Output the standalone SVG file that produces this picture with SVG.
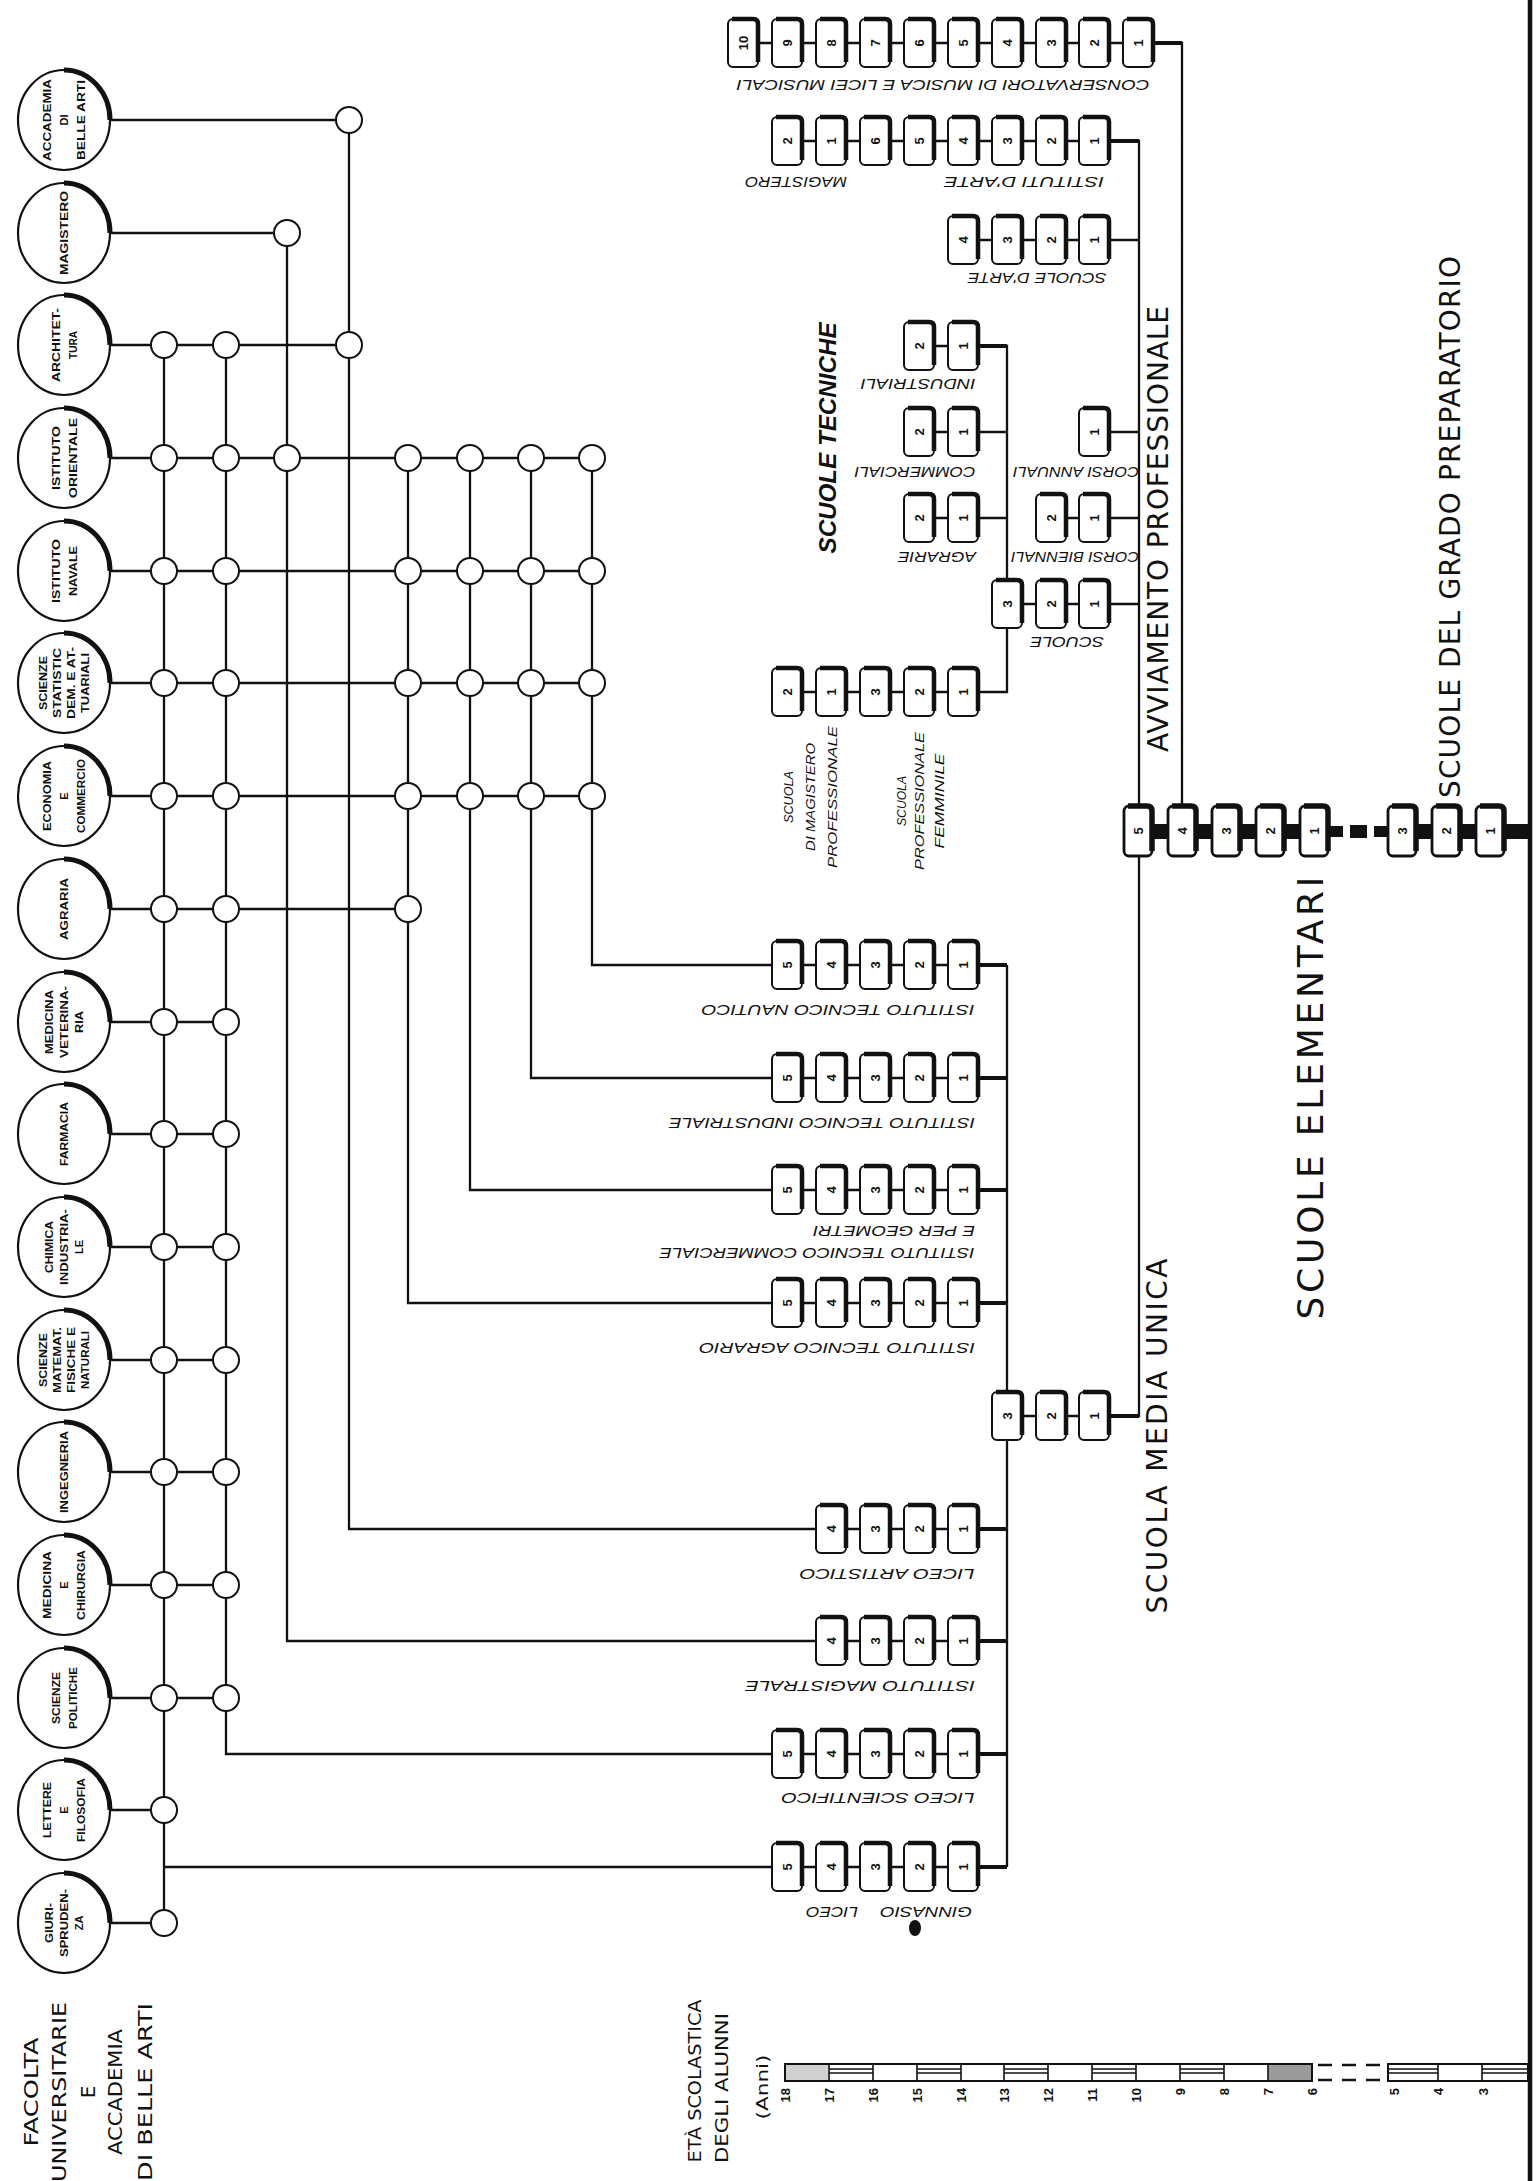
<svg xmlns="http://www.w3.org/2000/svg" xmlns:xlink="http://www.w3.org/1999/xlink" width="1538" height="2181" viewBox="0 0 1538 2181">
<style>
.ln{stroke:#111;stroke-width:2.3;fill:none}
.nd{fill:#fff;stroke:#111;stroke-width:2}
.fc ellipse{fill:#fff;stroke:#111;stroke-width:2.2}
.fc path{fill:none;stroke:#111;stroke-width:5}
.ft{font-family:"Liberation Sans",Arial,sans-serif;font-size:11px;font-weight:bold;fill:#111;text-anchor:middle;dominant-baseline:central}
.n{font-family:"Liberation Sans",Arial,sans-serif;font-size:13px;font-weight:bold;fill:#111;text-anchor:middle;dominant-baseline:central}
.lb{font-family:"Liberation Sans",Arial,sans-serif;font-size:15px;font-style:italic;fill:#111;text-anchor:middle;dominant-baseline:central}
.lv{font-family:"Liberation Sans",Arial,sans-serif;font-size:13px;font-style:italic;fill:#111;text-anchor:middle;dominant-baseline:central}
.big{font-family:"DejaVu Sans","Liberation Sans",sans-serif;font-size:28px;fill:#111;text-anchor:middle;dominant-baseline:central}
.hd{font-family:"DejaVu Sans","Liberation Sans",sans-serif;font-size:20px;fill:#111;text-anchor:middle;dominant-baseline:central}
.sn{font-family:"Liberation Sans",Arial,sans-serif;font-size:13px;font-weight:bold;fill:#111;text-anchor:end;dominant-baseline:central}
</style>
<defs>
<g id="bx"><rect x="-15" y="-24" width="30" height="48" rx="5" fill="#fff" stroke="#111" stroke-width="2"/><path d="M-11,-24H10Q15,-24 15,-19V19" fill="none" stroke="#111" stroke-width="4.5"/></g>
<g id="bxe"><rect x="-14" y="-25" width="28" height="50" rx="5" fill="#fff" stroke="#111" stroke-width="2.8"/><path d="M-10,-25H9Q14,-25 14,-20V20" fill="none" stroke="#111" stroke-width="5.5"/></g>
</defs>
<rect width="1538" height="2181" fill="#fff"/>

<g id="connectors">
<path class="ln" d="M110,120H349 M110,233H287 M110,345H349 M110,458H592 M110,571H592 M110,683H592 M110,796H592 M110,909H408 M110,1022H226 M110,1134H226 M110,1247H226 M110,1360H226 M110,1472H226 M110,1585H226 M110,1698H226 M110,1810H164 M110,1923H164"/>
<path class="ln" d="M164,345V1923 M164,1867H787 M226,345V1754H787 M287,233V1641H831 M349,120V1529H831 M408,458V1303H787 M470,458V1190H787 M531,458V1078H787 M592,458V965H787"/>
<path class="ln" d="M787,965H1007 M787,1078H1007 M787,1190H1007 M787,1303H1007 M831,1529H1007 M831,1641H1007 M787,1754H1007 M787,1867H1007 M1007,965V1867"/>
<path class="ln" d="M1007,1416H1139V141H787 M743,43H1182V831 M963,240H1139 M1094,432H1139 M1051,518H1139 M1007,604H1139 M919,346H1007V692H787 M919,432H1007 M919,518H1007"/>
<path class="ln" style="stroke-width:4" d="M978,965H1007 M978,1078H1007 M978,1190H1007 M978,1303H1007 M978,1529H1007 M978,1641H1007 M978,1754H1007 M978,1867H1007 M1109,1416H1139 M1153,43H1182 M978,346H1007 M1109,141H1139"/>
<path d="M1530,0V2181" stroke="#111" stroke-width="4.5"/>
<rect x="1138" y="824" width="191" height="15" fill="#111"/>
<rect x="1328" y="826" width="15" height="11" fill="#111"/>
<rect x="1350" y="825" width="17" height="13" fill="#111"/>
<rect x="1374" y="826" width="14" height="11" fill="#111"/>
<rect x="1400" y="824" width="130" height="15" fill="#111"/>
</g>

<g id="junctions">
<g id="j-r0"><circle class="nd" cx="349" cy="120" r="13"/></g>
<g id="j-r1"><circle class="nd" cx="287" cy="233" r="13"/></g>
<g id="j-r2"><circle class="nd" cx="164" cy="345" r="13"/><circle class="nd" cx="226" cy="345" r="13"/><circle class="nd" cx="349" cy="345" r="13"/></g>
<g id="j-r3"><circle class="nd" cx="164" cy="458" r="13"/><circle class="nd" cx="226" cy="458" r="13"/><circle class="nd" cx="287" cy="458" r="13"/><circle class="nd" cx="408" cy="458" r="13"/><circle class="nd" cx="470" cy="458" r="13"/><circle class="nd" cx="531" cy="458" r="13"/><circle class="nd" cx="592" cy="458" r="13"/></g>
<g id="j-r4"><circle class="nd" cx="164" cy="571" r="13"/><circle class="nd" cx="226" cy="571" r="13"/><circle class="nd" cx="408" cy="571" r="13"/><circle class="nd" cx="470" cy="571" r="13"/><circle class="nd" cx="531" cy="571" r="13"/><circle class="nd" cx="592" cy="571" r="13"/></g>
<g id="j-r5"><circle class="nd" cx="164" cy="683" r="13"/><circle class="nd" cx="226" cy="683" r="13"/><circle class="nd" cx="408" cy="683" r="13"/><circle class="nd" cx="470" cy="683" r="13"/><circle class="nd" cx="531" cy="683" r="13"/><circle class="nd" cx="592" cy="683" r="13"/></g>
<g id="j-r6"><circle class="nd" cx="164" cy="796" r="13"/><circle class="nd" cx="226" cy="796" r="13"/><circle class="nd" cx="408" cy="796" r="13"/><circle class="nd" cx="470" cy="796" r="13"/><circle class="nd" cx="531" cy="796" r="13"/><circle class="nd" cx="592" cy="796" r="13"/></g>
<g id="j-r7"><circle class="nd" cx="164" cy="909" r="13"/><circle class="nd" cx="226" cy="909" r="13"/><circle class="nd" cx="408" cy="909" r="13"/></g>
<g id="j-r8"><circle class="nd" cx="164" cy="1022" r="13"/><circle class="nd" cx="226" cy="1022" r="13"/></g>
<g id="j-r9"><circle class="nd" cx="164" cy="1134" r="13"/><circle class="nd" cx="226" cy="1134" r="13"/></g>
<g id="j-r10"><circle class="nd" cx="164" cy="1247" r="13"/><circle class="nd" cx="226" cy="1247" r="13"/></g>
<g id="j-r11"><circle class="nd" cx="164" cy="1360" r="13"/><circle class="nd" cx="226" cy="1360" r="13"/></g>
<g id="j-r12"><circle class="nd" cx="164" cy="1472" r="13"/><circle class="nd" cx="226" cy="1472" r="13"/></g>
<g id="j-r13"><circle class="nd" cx="164" cy="1585" r="13"/><circle class="nd" cx="226" cy="1585" r="13"/></g>
<g id="j-r14"><circle class="nd" cx="164" cy="1698" r="13"/><circle class="nd" cx="226" cy="1698" r="13"/></g>
<g id="j-r15"><circle class="nd" cx="164" cy="1810" r="13"/></g>
<g id="j-r16"><circle class="nd" cx="164" cy="1923" r="13"/></g>
</g>

<g id="f-accademia" class="fc" transform="translate(64,120)"><ellipse rx="46" ry="50"/><path d="M0,-50A46,50 0 0 1 46,0"/>
<text class="ft" transform="translate(-17,0) rotate(-90)" textLength="82" lengthAdjust="spacingAndGlyphs">ACCADEMIA</text><text class="ft" transform="rotate(-90)">DI</text><text class="ft" transform="translate(17,0) rotate(-90)" textLength="80" lengthAdjust="spacingAndGlyphs">BELLE ARTI</text></g>
<g id="f-magistero" class="fc" transform="translate(64,233)"><ellipse rx="46" ry="50"/><path d="M0,-50A46,50 0 0 1 46,0"/>
<text class="ft" transform="rotate(-90)" textLength="84" lengthAdjust="spacingAndGlyphs">MAGISTERO</text></g>
<g id="f-architettura" class="fc" transform="translate(64,345)"><ellipse rx="46" ry="50"/><path d="M0,-50A46,50 0 0 1 46,0"/>
<text class="ft" transform="translate(-8,0) rotate(-90)" textLength="74" lengthAdjust="spacingAndGlyphs">ARCHITET-</text><text class="ft" transform="translate(9,0) rotate(-90)" textLength="28" lengthAdjust="spacingAndGlyphs">TURA</text></g>
<g id="f-orientale" class="fc" transform="translate(64,458)"><ellipse rx="46" ry="50"/><path d="M0,-50A46,50 0 0 1 46,0"/>
<text class="ft" transform="translate(-8,0) rotate(-90)" textLength="64" lengthAdjust="spacingAndGlyphs">ISTITUTO</text><text class="ft" transform="translate(9,0) rotate(-90)" textLength="80" lengthAdjust="spacingAndGlyphs">ORIENTALE</text></g>
<g id="f-navale" class="fc" transform="translate(64,571)"><ellipse rx="46" ry="50"/><path d="M0,-50A46,50 0 0 1 46,0"/>
<text class="ft" transform="translate(-8,0) rotate(-90)" textLength="64" lengthAdjust="spacingAndGlyphs">ISTITUTO</text><text class="ft" transform="translate(9,0) rotate(-90)" textLength="50" lengthAdjust="spacingAndGlyphs">NAVALE</text></g>
<g id="f-statistiche" class="fc" transform="translate(64,683)"><ellipse rx="46" ry="50"/><path d="M0,-50A46,50 0 0 1 46,0"/>
<text class="ft" transform="translate(-21,0) rotate(-90)" textLength="54" lengthAdjust="spacingAndGlyphs">SCIENZE</text><text class="ft" transform="translate(-7,0) rotate(-90)" textLength="70" lengthAdjust="spacingAndGlyphs">STATISTIC</text><text class="ft" transform="translate(7,0) rotate(-90)" textLength="72" lengthAdjust="spacingAndGlyphs">DEM. E AT-</text><text class="ft" transform="translate(21,0) rotate(-90)" textLength="60" lengthAdjust="spacingAndGlyphs">TUARIALI</text></g>
<g id="f-economia" class="fc" transform="translate(64,796)"><ellipse rx="46" ry="50"/><path d="M0,-50A46,50 0 0 1 46,0"/>
<text class="ft" transform="translate(-17,0) rotate(-90)" textLength="70" lengthAdjust="spacingAndGlyphs">ECONOMIA</text><text class="ft" transform="rotate(-90)">E</text><text class="ft" transform="translate(17,0) rotate(-90)" textLength="74" lengthAdjust="spacingAndGlyphs">COMMERCIO</text></g>
<g id="f-agraria" class="fc" transform="translate(64,909)"><ellipse rx="46" ry="50"/><path d="M0,-50A46,50 0 0 1 46,0"/>
<text class="ft" transform="rotate(-90)" textLength="62" lengthAdjust="spacingAndGlyphs">AGRARIA</text></g>
<g id="f-veterinaria" class="fc" transform="translate(64,1022)"><ellipse rx="46" ry="50"/><path d="M0,-50A46,50 0 0 1 46,0"/>
<text class="ft" transform="translate(-15,0) rotate(-90)" textLength="64" lengthAdjust="spacingAndGlyphs">MEDICINA</text><text class="ft" transform="rotate(-90)" textLength="72" lengthAdjust="spacingAndGlyphs">VETERINA-</text><text class="ft" transform="translate(15,0) rotate(-90)" textLength="22" lengthAdjust="spacingAndGlyphs">RIA</text></g>
<g id="f-farmacia" class="fc" transform="translate(64,1134)"><ellipse rx="46" ry="50"/><path d="M0,-50A46,50 0 0 1 46,0"/>
<text class="ft" transform="rotate(-90)" textLength="64" lengthAdjust="spacingAndGlyphs">FARMACIA</text></g>
<g id="f-chimica" class="fc" transform="translate(64,1247)"><ellipse rx="46" ry="50"/><path d="M0,-50A46,50 0 0 1 46,0"/>
<text class="ft" transform="translate(-15,0) rotate(-90)" textLength="52" lengthAdjust="spacingAndGlyphs">CHIMICA</text><text class="ft" transform="rotate(-90)" textLength="76" lengthAdjust="spacingAndGlyphs">INDUSTRIA-</text><text class="ft" transform="translate(15,0) rotate(-90)">LE</text></g>
<g id="f-matematiche" class="fc" transform="translate(64,1360)"><ellipse rx="46" ry="50"/><path d="M0,-50A46,50 0 0 1 46,0"/>
<text class="ft" transform="translate(-21,0) rotate(-90)" textLength="54" lengthAdjust="spacingAndGlyphs">SCIENZE</text><text class="ft" transform="translate(-7,0) rotate(-90)" textLength="66" lengthAdjust="spacingAndGlyphs">MATEMAT.</text><text class="ft" transform="translate(7,0) rotate(-90)" textLength="66" lengthAdjust="spacingAndGlyphs">FISICHE E</text><text class="ft" transform="translate(21,0) rotate(-90)" textLength="58" lengthAdjust="spacingAndGlyphs">NATURALI</text></g>
<g id="f-ingegneria" class="fc" transform="translate(64,1472)"><ellipse rx="46" ry="50"/><path d="M0,-50A46,50 0 0 1 46,0"/>
<text class="ft" transform="rotate(-90)" textLength="82" lengthAdjust="spacingAndGlyphs">INGEGNERIA</text></g>
<g id="f-chirurgia" class="fc" transform="translate(64,1585)"><ellipse rx="46" ry="50"/><path d="M0,-50A46,50 0 0 1 46,0"/>
<text class="ft" transform="translate(-17,0) rotate(-90)" textLength="68" lengthAdjust="spacingAndGlyphs">MEDICINA</text><text class="ft" transform="rotate(-90)">E</text><text class="ft" transform="translate(17,0) rotate(-90)" textLength="70" lengthAdjust="spacingAndGlyphs">CHIRURGIA</text></g>
<g id="f-politiche" class="fc" transform="translate(64,1698)"><ellipse rx="46" ry="50"/><path d="M0,-50A46,50 0 0 1 46,0"/>
<text class="ft" transform="translate(-8,0) rotate(-90)" textLength="52" lengthAdjust="spacingAndGlyphs">SCIENZE</text><text class="ft" transform="translate(9,0) rotate(-90)" textLength="62" lengthAdjust="spacingAndGlyphs">POLITICHE</text></g>
<g id="f-lettere" class="fc" transform="translate(64,1810)"><ellipse rx="46" ry="50"/><path d="M0,-50A46,50 0 0 1 46,0"/>
<text class="ft" transform="translate(-17,0) rotate(-90)" textLength="56" lengthAdjust="spacingAndGlyphs">LETTERE</text><text class="ft" transform="rotate(-90)">E</text><text class="ft" transform="translate(17,0) rotate(-90)" textLength="64" lengthAdjust="spacingAndGlyphs">FILOSOFIA</text></g>
<g id="f-giurisprudenza" class="fc" transform="translate(64,1923)"><ellipse rx="46" ry="50"/><path d="M0,-50A46,50 0 0 1 46,0"/>
<text class="ft" transform="translate(-15,0) rotate(-90)" textLength="40" lengthAdjust="spacingAndGlyphs">GIURI-</text><text class="ft" transform="rotate(-90)" textLength="68" lengthAdjust="spacingAndGlyphs">SPRUDEN-</text><text class="ft" transform="translate(15,0) rotate(-90)">ZA</text></g>

<g id="title-facolta">
<text class="hd" transform="translate(31,2092) rotate(-90)" textLength="109" lengthAdjust="spacingAndGlyphs">FACOLTA</text>
<text class="hd" transform="translate(59,2092) rotate(-90)" textLength="180" lengthAdjust="spacingAndGlyphs">UNIVERSITARIE</text>
<text class="hd" transform="translate(88,2092) rotate(-90)">E</text>
<text class="hd" transform="translate(115,2092) rotate(-90)" textLength="126" lengthAdjust="spacingAndGlyphs">ACCADEMIA</text>
<text class="hd" transform="translate(145,2092) rotate(-90)" textLength="178" lengthAdjust="spacingAndGlyphs">DI BELLE ARTI</text>
</g>

<g id="s-conservatori">
<g transform="translate(1138,43)"><use href="#bx"/><text class="n" transform="rotate(-90)">1</text></g>
<g transform="translate(1094,43)"><use href="#bx"/><text class="n" transform="rotate(-90)">2</text></g>
<g transform="translate(1051,43)"><use href="#bx"/><text class="n" transform="rotate(-90)">3</text></g>
<g transform="translate(1007,43)"><use href="#bx"/><text class="n" transform="rotate(-90)">4</text></g>
<g transform="translate(963,43)"><use href="#bx"/><text class="n" transform="rotate(-90)">5</text></g>
<g transform="translate(919,43)"><use href="#bx"/><text class="n" transform="rotate(-90)">6</text></g>
<g transform="translate(875,43)"><use href="#bx"/><text class="n" transform="rotate(-90)">7</text></g>
<g transform="translate(831,43)"><use href="#bx"/><text class="n" transform="rotate(-90)">8</text></g>
<g transform="translate(787,43)"><use href="#bx"/><text class="n" transform="rotate(-90)">9</text></g>
<g transform="translate(743,43)"><use href="#bx"/><text class="n" transform="rotate(-90)">10</text></g>
<text class="lb" transform="translate(943,85) rotate(180)" textLength="413" lengthAdjust="spacingAndGlyphs">CONSERVATORI DI MUSICA E LICEI MUSICALI</text>
</g>

<g id="s-istituti-arte">
<g transform="translate(1094,141)"><use href="#bx"/><text class="n" transform="rotate(-90)">1</text></g>
<g transform="translate(1051,141)"><use href="#bx"/><text class="n" transform="rotate(-90)">2</text></g>
<g transform="translate(1007,141)"><use href="#bx"/><text class="n" transform="rotate(-90)">3</text></g>
<g transform="translate(963,141)"><use href="#bx"/><text class="n" transform="rotate(-90)">4</text></g>
<g transform="translate(919,141)"><use href="#bx"/><text class="n" transform="rotate(-90)">5</text></g>
<g transform="translate(875,141)"><use href="#bx"/><text class="n" transform="rotate(-90)">6</text></g>
<text class="lb" transform="translate(1024,182) rotate(180)" textLength="160" lengthAdjust="spacingAndGlyphs">ISTITUTI D'ARTE</text>
</g>
<g id="s-magistero-arte">
<g transform="translate(831,141)"><use href="#bx"/><text class="n" transform="rotate(-90)">1</text></g>
<g transform="translate(787,141)"><use href="#bx"/><text class="n" transform="rotate(-90)">2</text></g>
<text class="lb" transform="translate(796,182) rotate(180)" textLength="102" lengthAdjust="spacingAndGlyphs">MAGISTERO</text>
</g>

<g id="s-scuole-arte">
<g transform="translate(1094,240)"><use href="#bx"/><text class="n" transform="rotate(-90)">1</text></g>
<g transform="translate(1051,240)"><use href="#bx"/><text class="n" transform="rotate(-90)">2</text></g>
<g transform="translate(1007,240)"><use href="#bx"/><text class="n" transform="rotate(-90)">3</text></g>
<g transform="translate(963,240)"><use href="#bx"/><text class="n" transform="rotate(-90)">4</text></g>
<text class="lb" transform="translate(1037,278) rotate(180)" textLength="139" lengthAdjust="spacingAndGlyphs">SCUOLE D'ARTE</text>
</g>

<g id="s-tecniche-industriali">
<g transform="translate(963,346)"><use href="#bx"/><text class="n" transform="rotate(-90)">1</text></g>
<g transform="translate(919,346)"><use href="#bx"/><text class="n" transform="rotate(-90)">2</text></g>
<text class="lb" transform="translate(918,384) rotate(180)" textLength="115" lengthAdjust="spacingAndGlyphs">INDUSTRIALI</text>
</g>
<g id="s-tecniche-commerciali">
<g transform="translate(963,432)"><use href="#bx"/><text class="n" transform="rotate(-90)">1</text></g>
<g transform="translate(919,432)"><use href="#bx"/><text class="n" transform="rotate(-90)">2</text></g>
<text class="lb" transform="translate(915,472) rotate(180)" textLength="121" lengthAdjust="spacingAndGlyphs">COMMERCIALI</text>
</g>
<g id="s-tecniche-agrarie">
<g transform="translate(963,518)"><use href="#bx"/><text class="n" transform="rotate(-90)">1</text></g>
<g transform="translate(919,518)"><use href="#bx"/><text class="n" transform="rotate(-90)">2</text></g>
<text class="lb" transform="translate(937,557) rotate(180)" textLength="78" lengthAdjust="spacingAndGlyphs">AGRARIE</text>
</g>
<g id="s-corsi-annuali">
<g transform="translate(1094,432)"><use href="#bx"/><text class="n" transform="rotate(-90)">1</text></g>
<text class="lb" transform="translate(1076,472) rotate(180)" textLength="126" lengthAdjust="spacingAndGlyphs">CORSI ANNUALI</text>
</g>
<g id="s-corsi-biennali">
<g transform="translate(1094,518)"><use href="#bx"/><text class="n" transform="rotate(-90)">1</text></g>
<g transform="translate(1051,518)"><use href="#bx"/><text class="n" transform="rotate(-90)">2</text></g>
<text class="lb" transform="translate(1075,557) rotate(180)" textLength="128" lengthAdjust="spacingAndGlyphs">CORSI BIENNALI</text>
</g>
<g id="s-scuole">
<g transform="translate(1094,604)"><use href="#bx"/><text class="n" transform="rotate(-90)">1</text></g>
<g transform="translate(1051,604)"><use href="#bx"/><text class="n" transform="rotate(-90)">2</text></g>
<g transform="translate(1007,604)"><use href="#bx"/><text class="n" transform="rotate(-90)">3</text></g>
<text class="lb" transform="translate(1067,642) rotate(180)" textLength="74" lengthAdjust="spacingAndGlyphs">SCUOLE</text>
</g>
<g id="s-professionale-femminile">
<g transform="translate(963,692)"><use href="#bx"/><text class="n" transform="rotate(-90)">1</text></g>
<g transform="translate(919,692)"><use href="#bx"/><text class="n" transform="rotate(-90)">2</text></g>
<g transform="translate(875,692)"><use href="#bx"/><text class="n" transform="rotate(-90)">3</text></g>
<text class="lv" transform="translate(901,801) rotate(-90)" textLength="50" lengthAdjust="spacingAndGlyphs">SCUOLA</text>
<text class="lv" transform="translate(919,801) rotate(-90)" textLength="138" lengthAdjust="spacingAndGlyphs">PROFESSIONALE</text>
<text class="lv" transform="translate(939,801) rotate(-90)" textLength="95" lengthAdjust="spacingAndGlyphs">FEMMINILE</text>
</g>
<g id="s-magistero-professionale">
<g transform="translate(831,692)"><use href="#bx"/><text class="n" transform="rotate(-90)">1</text></g>
<g transform="translate(787,692)"><use href="#bx"/><text class="n" transform="rotate(-90)">2</text></g>
<text class="lv" transform="translate(788,797) rotate(-90)" textLength="52" lengthAdjust="spacingAndGlyphs">SCUOLA</text>
<text class="lv" transform="translate(810,797) rotate(-90)" textLength="108" lengthAdjust="spacingAndGlyphs">DI MAGISTERO</text>
<text class="lv" transform="translate(832,797) rotate(-90)" textLength="142" lengthAdjust="spacingAndGlyphs">PROFESSIONALE</text>
</g>
<text class="big" style="font-family:'Liberation Sans',sans-serif;font-style:italic;font-weight:bold;font-size:23px" transform="translate(828,438) rotate(-90)" textLength="231" lengthAdjust="spacingAndGlyphs">SCUOLE TECNICHE</text>

<g id="s-nautico">
<g transform="translate(963,965)"><use href="#bx"/><text class="n" transform="rotate(-90)">1</text></g>
<g transform="translate(919,965)"><use href="#bx"/><text class="n" transform="rotate(-90)">2</text></g>
<g transform="translate(875,965)"><use href="#bx"/><text class="n" transform="rotate(-90)">3</text></g>
<g transform="translate(831,965)"><use href="#bx"/><text class="n" transform="rotate(-90)">4</text></g>
<g transform="translate(787,965)"><use href="#bx"/><text class="n" transform="rotate(-90)">5</text></g>
<text class="lb" transform="translate(838,1010) rotate(180)" textLength="273" lengthAdjust="spacingAndGlyphs">ISTITUTO TECNICO NAUTICO</text>
</g>
<g id="s-industriale">
<g transform="translate(963,1078)"><use href="#bx"/><text class="n" transform="rotate(-90)">1</text></g>
<g transform="translate(919,1078)"><use href="#bx"/><text class="n" transform="rotate(-90)">2</text></g>
<g transform="translate(875,1078)"><use href="#bx"/><text class="n" transform="rotate(-90)">3</text></g>
<g transform="translate(831,1078)"><use href="#bx"/><text class="n" transform="rotate(-90)">4</text></g>
<g transform="translate(787,1078)"><use href="#bx"/><text class="n" transform="rotate(-90)">5</text></g>
<text class="lb" transform="translate(822,1123) rotate(180)" textLength="306" lengthAdjust="spacingAndGlyphs">ISTITUTO TECNICO INDUSTRIALE</text>
</g>
<g id="s-commerciale">
<g transform="translate(963,1190)"><use href="#bx"/><text class="n" transform="rotate(-90)">1</text></g>
<g transform="translate(919,1190)"><use href="#bx"/><text class="n" transform="rotate(-90)">2</text></g>
<g transform="translate(875,1190)"><use href="#bx"/><text class="n" transform="rotate(-90)">3</text></g>
<g transform="translate(831,1190)"><use href="#bx"/><text class="n" transform="rotate(-90)">4</text></g>
<g transform="translate(787,1190)"><use href="#bx"/><text class="n" transform="rotate(-90)">5</text></g>
<text class="lb" transform="translate(817,1253) rotate(180)" textLength="315" lengthAdjust="spacingAndGlyphs">ISTITUTO TECNICO COMMERCIALE</text>
<text class="lb" transform="translate(894,1231) rotate(180)" textLength="162" lengthAdjust="spacingAndGlyphs">E PER GEOMETRI</text>
</g>
<g id="s-agrario">
<g transform="translate(963,1303)"><use href="#bx"/><text class="n" transform="rotate(-90)">1</text></g>
<g transform="translate(919,1303)"><use href="#bx"/><text class="n" transform="rotate(-90)">2</text></g>
<g transform="translate(875,1303)"><use href="#bx"/><text class="n" transform="rotate(-90)">3</text></g>
<g transform="translate(831,1303)"><use href="#bx"/><text class="n" transform="rotate(-90)">4</text></g>
<g transform="translate(787,1303)"><use href="#bx"/><text class="n" transform="rotate(-90)">5</text></g>
<text class="lb" transform="translate(837,1348) rotate(180)" textLength="276" lengthAdjust="spacingAndGlyphs">ISTITUTO TECNICO AGRARIO</text>
</g>
<g id="s-media-unica">
<g transform="translate(1094,1416)"><use href="#bx"/><text class="n" transform="rotate(-90)">1</text></g>
<g transform="translate(1051,1416)"><use href="#bx"/><text class="n" transform="rotate(-90)">2</text></g>
<g transform="translate(1007,1416)"><use href="#bx"/><text class="n" transform="rotate(-90)">3</text></g>
<text class="big" transform="translate(1157,1436) rotate(-90)" textLength="355" lengthAdjust="spacing">SCUOLA MEDIA UNICA</text>
</g>
<g id="s-artistico">
<g transform="translate(963,1529)"><use href="#bx"/><text class="n" transform="rotate(-90)">1</text></g>
<g transform="translate(919,1529)"><use href="#bx"/><text class="n" transform="rotate(-90)">2</text></g>
<g transform="translate(875,1529)"><use href="#bx"/><text class="n" transform="rotate(-90)">3</text></g>
<g transform="translate(831,1529)"><use href="#bx"/><text class="n" transform="rotate(-90)">4</text></g>
<text class="lb" transform="translate(887,1574) rotate(180)" textLength="175" lengthAdjust="spacingAndGlyphs">LICEO ARTISTICO</text>
</g>
<g id="s-magistrale">
<g transform="translate(963,1641)"><use href="#bx"/><text class="n" transform="rotate(-90)">1</text></g>
<g transform="translate(919,1641)"><use href="#bx"/><text class="n" transform="rotate(-90)">2</text></g>
<g transform="translate(875,1641)"><use href="#bx"/><text class="n" transform="rotate(-90)">3</text></g>
<g transform="translate(831,1641)"><use href="#bx"/><text class="n" transform="rotate(-90)">4</text></g>
<text class="lb" transform="translate(860,1686) rotate(180)" textLength="230" lengthAdjust="spacingAndGlyphs">ISTITUTO MAGISTRALE</text>
</g>
<g id="s-scientifico">
<g transform="translate(963,1754)"><use href="#bx"/><text class="n" transform="rotate(-90)">1</text></g>
<g transform="translate(919,1754)"><use href="#bx"/><text class="n" transform="rotate(-90)">2</text></g>
<g transform="translate(875,1754)"><use href="#bx"/><text class="n" transform="rotate(-90)">3</text></g>
<g transform="translate(831,1754)"><use href="#bx"/><text class="n" transform="rotate(-90)">4</text></g>
<g transform="translate(787,1754)"><use href="#bx"/><text class="n" transform="rotate(-90)">5</text></g>
<text class="lb" transform="translate(878,1798) rotate(180)" textLength="193" lengthAdjust="spacingAndGlyphs">LICEO SCIENTIFICO</text>
</g>
<g id="s-ginnasio-liceo">
<g transform="translate(963,1867)"><use href="#bx"/><text class="n" transform="rotate(-90)">1</text></g>
<g transform="translate(919,1867)"><use href="#bx"/><text class="n" transform="rotate(-90)">2</text></g>
<g transform="translate(875,1867)"><use href="#bx"/><text class="n" transform="rotate(-90)">3</text></g>
<g transform="translate(831,1867)"><use href="#bx"/><text class="n" transform="rotate(-90)">4</text></g>
<g transform="translate(787,1867)"><use href="#bx"/><text class="n" transform="rotate(-90)">5</text></g>
<text class="lb" transform="translate(926,1912) rotate(180)" textLength="92" lengthAdjust="spacingAndGlyphs">GINNASIO</text>
<text class="lb" transform="translate(832,1912) rotate(180)" textLength="52" lengthAdjust="spacingAndGlyphs">LICEO</text>
<ellipse cx="915" cy="1928" rx="6" ry="8" fill="#111"/>
</g>

<g id="s-elementari">
<g transform="translate(1314,831)"><use href="#bxe"/><text class="n" transform="rotate(-90)">1</text></g>
<g transform="translate(1270,831)"><use href="#bxe"/><text class="n" transform="rotate(-90)">2</text></g>
<g transform="translate(1226,831)"><use href="#bxe"/><text class="n" transform="rotate(-90)">3</text></g>
<g transform="translate(1182,831)"><use href="#bxe"/><text class="n" transform="rotate(-90)">4</text></g>
<g transform="translate(1138,831)"><use href="#bxe"/><text class="n" transform="rotate(-90)">5</text></g>
<text class="big" style="font-size:36px" transform="translate(1310,1098) rotate(-90)" textLength="443" lengthAdjust="spacing">SCUOLE ELEMENTARI</text>
</g>
<g id="s-preparatorio">
<g transform="translate(1490,831)"><use href="#bxe"/><text class="n" transform="rotate(-90)">1</text></g>
<g transform="translate(1446,831)"><use href="#bxe"/><text class="n" transform="rotate(-90)">2</text></g>
<g transform="translate(1402,831)"><use href="#bxe"/><text class="n" transform="rotate(-90)">3</text></g>
<text class="big" transform="translate(1450,527) rotate(-90)" textLength="542" lengthAdjust="spacing">SCUOLE DEL GRADO PREPARATORIO</text>
</g>
<text class="big" transform="translate(1158,529) rotate(-90)" textLength="446" lengthAdjust="spacing">AVVIAMENTO PROFESSIONALE</text>

<g id="eta-scale">
<text class="hd" style="font-size:17px" transform="translate(695,2081) rotate(-90)" textLength="163" lengthAdjust="spacingAndGlyphs">ETÀ SCOLASTICA</text>
<text class="hd" style="font-size:17px" transform="translate(722,2088) rotate(-90)" textLength="150" lengthAdjust="spacingAndGlyphs">DEGLI ALUNNI</text>
<text class="hd" style="font-size:16px" transform="translate(762,2087) rotate(-90)" textLength="65" lengthAdjust="spacingAndGlyphs">(Anni)</text>
<rect x="785" y="2064" width="527" height="17" fill="#fff" stroke="#111" stroke-width="2"/>
<rect x="786" y="2065" width="42" height="15" fill="#d0d0d0"/>
<rect x="1268" y="2065" width="43" height="15" fill="#9a9a9a"/>
<path class="ln" style="stroke-width:1.6" d="M829,2064V2081 M873,2064V2081 M917,2064V2081 M961,2064V2081 M1004,2064V2081 M1048,2064V2081 M1092,2064V2081 M1136,2064V2081 M1180,2064V2081 M1224,2064V2081 M1268,2064V2081 M829,2069H873 M829,2073H873 M917,2069H961 M917,2073H961 M1004,2069H1048 M1004,2073H1048 M1092,2069H1136 M1092,2073H1136 M1180,2069H1224 M1180,2073H1224"/>
<path class="ln" style="stroke-dasharray:14 10" d="M1318,2065H1386 M1318,2080H1386"/>
<rect x="1388" y="2064" width="140" height="17" fill="#fff" stroke="#111" stroke-width="2"/>
<path class="ln" style="stroke-width:1.6" d="M1438,2064V2081 M1482,2064V2081 M1388,2069H1438 M1388,2073H1438 M1482,2069H1528 M1482,2073H1528"/>
<text class="sn" transform="translate(785,2088) rotate(-90)">18</text>
<text class="sn" transform="translate(829,2088) rotate(-90)">17</text>
<text class="sn" transform="translate(873,2088) rotate(-90)">16</text>
<text class="sn" transform="translate(917,2088) rotate(-90)">15</text>
<text class="sn" transform="translate(961,2088) rotate(-90)">14</text>
<text class="sn" transform="translate(1004,2088) rotate(-90)">13</text>
<text class="sn" transform="translate(1048,2088) rotate(-90)">12</text>
<text class="sn" transform="translate(1092,2088) rotate(-90)">11</text>
<text class="sn" transform="translate(1136,2088) rotate(-90)">10</text>
<text class="sn" transform="translate(1180,2088) rotate(-90)">9</text>
<text class="sn" transform="translate(1224,2088) rotate(-90)">8</text>
<text class="sn" transform="translate(1268,2088) rotate(-90)">7</text>
<text class="sn" transform="translate(1312,2088) rotate(-90)">6</text>
<text class="sn" transform="translate(1394,2088) rotate(-90)">5</text>
<text class="sn" transform="translate(1438,2088) rotate(-90)">4</text>
<text class="sn" transform="translate(1483,2088) rotate(-90)">3</text>
</g>
</svg>
